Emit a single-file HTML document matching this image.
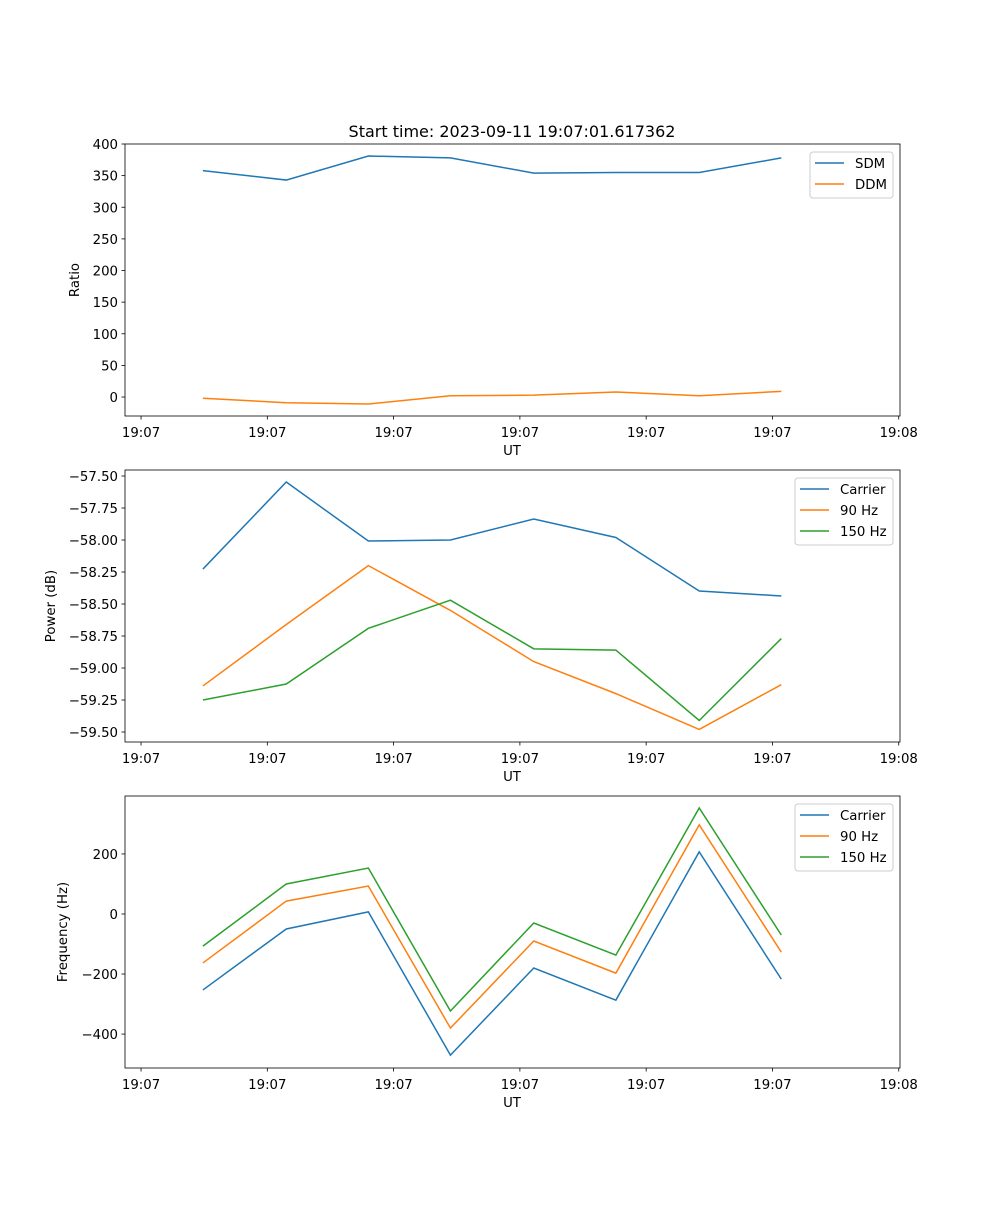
<!DOCTYPE html>
<html><head><meta charset="utf-8"><style>
body{margin:0;background:#fff}
svg text{font-family:"DejaVu Sans","Liberation Sans",sans-serif;font-size:13.3px;fill:#000}
</style></head><body>
<svg id="fig" width="1000" height="1200" xmlns="http://www.w3.org/2000/svg">
<rect width="1000" height="1200" fill="#fff"/>
<text x="512" y="137" text-anchor="middle" style="font-size:16px">Start time: 2023-09-11 19:07:01.617362</text>
</svg>
<script>
const times = [4.9, 11.5, 18.0, 24.5, 31.1, 37.6, 44.2, 50.7];
const xTickVals = [0, 10, 20, 30, 40, 50, 60];
const xTickLabels = ["19:07","19:07","19:07","19:07","19:07","19:07","19:08"];
const sdm = [358, 343, 381, 378, 354, 355, 355, 378];
const ddm = [-2, -9, -11, 2, 3, 8, 2, 9];
const powCarrier = [-58.227, -57.547, -58.008, -58.0, -57.836, -57.98, -58.398, -58.437];
const pow90 = [-59.14, -58.66, -58.20, -58.55, -58.95, -59.20, -59.48, -59.13];
const pow150 = [-59.25, -59.125, -58.69, -58.47, -58.85, -58.86, -59.41, -58.77];
const frqCarrier = [-253, -50, 7, -470, -180, -287, 207, -217];
const frq90 = [-163, 43, 93, -380, -90, -197, 297, -127];
const frq150 = [-107, 100, 153, -323, -30, -137, 353, -70];
const ratioTicks = [0,50,100,150,200,250,300,350,400];
const powTicks = [-59.5,-59.25,-59.0,-58.75,-58.5,-58.25,-58.0,-57.75,-57.5];
const frqTicks = [-400,-200,0,200];

const NS="http://www.w3.org/2000/svg", svg=document.getElementById('fig');
function mk(t,a,p){const e=document.createElementNS(NS,t);for(const k in a)e.setAttribute(k,a[k]);(p||svg).appendChild(e);return e;}
const X0=125,X1=900,xmin=-1.27,xmax=60.1;
const sx=v=>X0+(v-xmin)/(xmax-xmin)*(X1-X0);
const C=['#1f77b4','#ff7f0e','#2ca02c'];

function panel(name,top,bot,ymin,ymax,yticks,fmt,series,labels,ylabel,ylx,leg){
  const sy=v=>bot-(v-ymin)/(ymax-ymin)*(bot-top);
  const g=mk('g',{});
  
  
  series.forEach((s,i)=>{
    const p=mk('polyline',{points:s.map((v,j)=>sx(times[j])+','+sy(v)).join(' '),fill:'none',stroke:C[i],'stroke-width':1.5},g);
    
    
  });
  const fr=mk('rect',{x:X0,y:top,width:X1-X0,height:bot-top,fill:'none',stroke:'#000','stroke-width':0.8},g);
  
  
  xTickVals.forEach((v,i)=>{
    const x=sx(v);
    mk('line',{x1:x,x2:x,y1:bot,y2:bot+3.5,stroke:'#000','stroke-width':0.8},g);
    const t=mk('text',{x:x,y:bot+21,'text-anchor':'middle'},g);t.textContent=xTickLabels[i];
    
    
  });
  yticks.forEach(v=>{
    const y=sy(v);
    mk('line',{x1:X0,x2:X0-3.5,y1:y,y2:y,stroke:'#000','stroke-width':0.8},g);
    const t=mk('text',{x:X0-7,y:y+5,'text-anchor':'end'},g);t.textContent=fmt(v);
    
    
  });
  const xl=mk('text',{x:512,y:bot+39,'text-anchor':'middle'},g);xl.textContent='UT';
  
  
  const yl=mk('text',{x:ylx,y:(top+bot)/2,'text-anchor':'middle',transform:`rotate(-90 ${ylx} ${(top+bot)/2})`},g);yl.textContent=ylabel;
  
  
  const lg=mk('g',{},g);
  
  
  mk('rect',{x:leg[0],y:top+8,width:leg[1],height:4+21*labels.length,rx:3,fill:'#fff','fill-opacity':0.8,stroke:'#ccc'},lg);
  labels.forEach((l,i)=>{
    const y=top+19+21*i;
    mk('line',{x1:leg[0]+5,x2:leg[0]+34,y1:y,y2:y,stroke:C[i],'stroke-width':1.5},lg);
    const t=mk('text',{x:leg[0]+45,y:y+5},lg);t.textContent=l;
    
    
  });
}
panel('ratio',144,416,-30,400,ratioTicks,v=>String(v),[sdm,ddm],['SDM','DDM'],'Ratio',79,[810,83]);
panel('power',470,742,-59.578,-57.453,powTicks,v=>v.toFixed(2).replace('-','\u2212'),[powCarrier,pow90,pow150],['Carrier','90 Hz','150 Hz'],'Power (dB)',55,[795,98]);
panel('frequency',796,1068,-513,393,frqTicks,v=>String(v).replace('-','\u2212'),[frqCarrier,frq90,frq150],['Carrier','90 Hz','150 Hz'],'Frequency (Hz)',67,[795,98]);
</script>
</body></html>
